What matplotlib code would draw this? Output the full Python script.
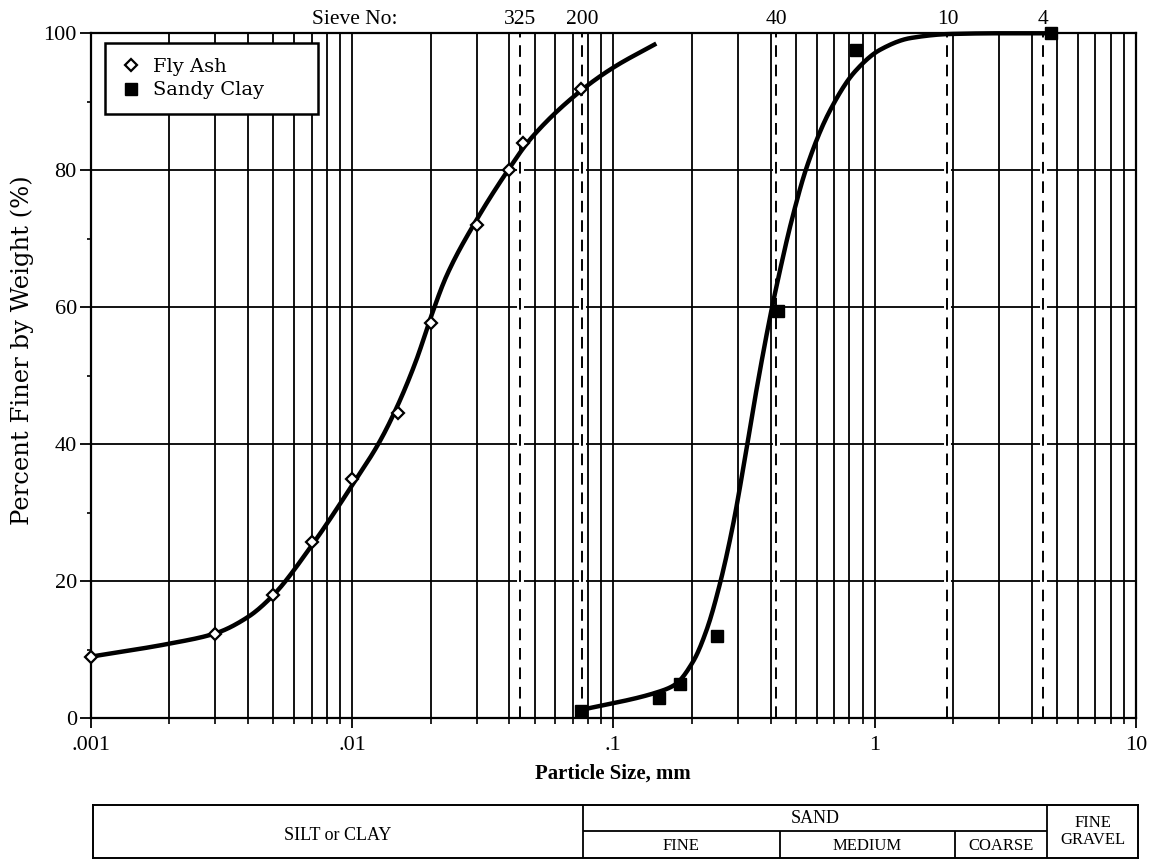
import numpy as np
import matplotlib
matplotlib.use("Agg")
import matplotlib.pyplot as plt
from matplotlib.ticker import LogLocator, NullFormatter, FixedLocator

# ---------------- data ----------------
fly_ash_x = [0.001, 0.003, 0.005, 0.007, 0.01, 0.015, 0.02, 0.03, 0.04, 0.045, 0.075]
fly_ash_y = [9.0, 12.3, 18.0, 25.8, 35.0, 44.5, 57.7, 72.0, 80.0, 84.0, 91.8]

sandy_clay_x = [0.075, 0.15, 0.18, 0.25, 0.425, 0.85, 4.75]
sandy_clay_y = [1.0, 3.0, 5.0, 12.0, 59.4, 97.6, 100.0]

# hand-drawn fit curves
fly_ash_curve_x = [0.001, 0.002, 0.003, 0.004, 0.005, 0.007, 0.01, 0.0128, 0.015,
                   0.0177, 0.02, 0.023, 0.03, 0.04, 0.048, 0.075, 0.1, 0.146]
fly_ash_curve_y = [9.0, 10.9, 12.4, 14.8, 18.0, 25.2, 34.0, 40.5, 45.8,
                   52.5, 58.5, 64.6, 72.8, 80.3, 84.5, 91.6, 95.0, 98.5]

sandy_clay_curve_x = [0.075, 0.15, 0.172, 0.202, 0.2275, 0.256, 0.288, 0.319, 0.354,
                      0.398, 0.428, 0.48, 0.55, 0.67, 0.84, 1.05, 1.37, 1.95, 3.0, 4.75]
sandy_clay_curve_y = [1.2, 3.9, 4.9, 8.3, 12.9, 19.7, 28.5, 38.0, 48.2,
                      58.6, 64.3, 72.5, 80.5, 88.5, 94.4, 97.6, 99.3, 99.9, 100.0, 100.0]

series_labels = ["Fly Ash", "Sandy Clay"]

sieve_labels = ["325", "200", "40", "10", "4"]
sieve_sizes = [0.044, 0.0757, 0.42, 1.9, 4.4]

x_tick_values = [0.001, 0.01, 0.1, 1, 10]
x_tick_labels = [".001", ".01", ".1", "1", "10"]
y_tick_values = [0, 20, 40, 60, 80, 100]
y_minor_values = [10, 30, 50, 70, 90]

table_bounds = [0.001, 0.075, 0.425, 2.0, 4.5, 10.0]
table_lower_labels = ["SILT or CLAY", "FINE", "MEDIUM", "COARSE", "FINE\nGRAVEL"]


def pchip(x, y, xn):
    x = np.asarray(x, float); y = np.asarray(y, float); xn = np.asarray(xn, float)
    h = np.diff(x); d = np.diff(y) / h
    n = len(x); m = np.zeros(n)
    for k in range(1, n - 1):
        if d[k - 1] * d[k] > 0:
            w1 = 2 * h[k] + h[k - 1]; w2 = h[k] + 2 * h[k - 1]
            m[k] = (w1 + w2) / (w1 / d[k - 1] + w2 / d[k])
    m[0] = d[0]; m[-1] = d[-1]
    idx = np.clip(np.searchsorted(x, xn) - 1, 0, n - 2)
    t = (xn - x[idx]) / h[idx]
    h00 = 2 * t**3 - 3 * t**2 + 1; h10 = t**3 - 2 * t**2 + t
    h01 = -2 * t**3 + 3 * t**2; h11 = t**3 - t**2
    return h00 * y[idx] + h10 * h[idx] * m[idx] + h01 * y[idx + 1] + h11 * h[idx] * m[idx + 1]


def smooth(cx, cy):
    lx = np.log10(cx)
    fine = np.linspace(lx[0], lx[-1], 500)
    return 10 ** fine, pchip(lx, cy, fine)


SERIF = "DejaVu Serif"
TIMES = "Liberation Serif"

fig = plt.figure(figsize=(11.59, 8.67), dpi=100)
ax = fig.add_axes([0.0783, 0.1715, 0.9018, 0.7901])
ax.set_xscale("log")
ax.set_xlim(0.001, 10)
ax.set_ylim(0, 100)

ax.xaxis.set_major_locator(FixedLocator(x_tick_values))
ax.set_xticklabels(x_tick_labels)
ax.xaxis.set_minor_locator(LogLocator(base=10, subs=np.arange(2, 10), numticks=100))
ax.xaxis.set_minor_formatter(NullFormatter())
ax.set_yticks(y_tick_values)
ax.set_yticks(y_minor_values, minor=True)

ax.grid(which="both", axis="x", color="black", lw=1.3, zorder=1)
ax.grid(which="major", axis="y", color="black", lw=1.3, zorder=1)
ax.set_axisbelow(True)

for sp in ax.spines.values():
    sp.set_linewidth(1.6)
    sp.set_color("black")

ax.tick_params(axis="x", which="major", direction="out", length=7, width=1.3, pad=6)
ax.tick_params(axis="x", which="minor", direction="out", length=4, width=1.2)
ax.tick_params(axis="y", which="major", direction="out", length=8, width=1.3, pad=2)
ax.tick_params(axis="y", which="minor", direction="out", length=3, width=1.2)
for lab in ax.get_xticklabels() + ax.get_yticklabels():
    lab.set_fontfamily(TIMES)
    lab.set_fontsize(16)

# sieve dashed lines and labels
for s, lab in zip(sieve_sizes, sieve_labels):
    ax.axvline(s, color="white", lw=5, zorder=1.5)
    ax.axvline(s, color="black", lw=1.4, ls=(0, (6, 4)), zorder=1.6)
    ax.text(s, 1.006, lab, transform=ax.get_xaxis_transform(), ha="center", va="bottom",
            fontfamily=TIMES, fontsize=15.5)
ax.text(0.2528, 1.006, "Sieve No:", transform=ax.transAxes, ha="center", va="bottom",
        fontfamily=TIMES, fontsize=15.5)

# curves
fx, fy = smooth(fly_ash_curve_x, fly_ash_curve_y)
ax.plot(fx, fy, color="black", lw=3.2, zorder=3, clip_on=False, solid_capstyle="butt")
sx, sy = smooth(sandy_clay_curve_x, sandy_clay_curve_y)
ax.plot(sx, sy, color="black", lw=3.2, zorder=3, clip_on=False, solid_capstyle="butt")

# markers
h1, = ax.plot(fly_ash_x, fly_ash_y, ls="none", marker="D", ms=6.5, mfc="white",
              mec="black", mew=1.6, zorder=4, clip_on=False, label=series_labels[0])
h2, = ax.plot(sandy_clay_x, sandy_clay_y, ls="none", marker="s", ms=9, mfc="black",
              mec="black", zorder=4, clip_on=False, label=series_labels[1])

leg = ax.legend(handles=[h1, h2], loc="upper left",
                bbox_to_anchor=(0.0137, 0.872, 0.2038, 0.1139), mode="expand",
                prop={"family": SERIF, "size": 14}, frameon=True, fancybox=False,
                framealpha=1, edgecolor="black", borderpad=0.75, labelspacing=0.3,
                handletextpad=0.5, handlelength=1.2, borderaxespad=0)
leg.get_frame().set_linewidth(1.8)
leg.set_zorder(10)

ax.set_xlabel("Particle Size, mm", fontfamily=TIMES, fontweight="bold", fontsize=15, labelpad=6)
fig.text(22 / 1159, 1 - 350 / 867, "Percent Finer by Weight (%)", rotation=90,
         ha="center", va="center", fontfamily=SERIF, fontsize=17.5)

# classification table
tax = fig.add_axes([0.0802, 0.0104, 0.9017, 0.0611])
tax.set_xscale("log")
tax.set_xlim(table_bounds[0], table_bounds[-1])
tax.set_ylim(0, 2)
tax.xaxis.set_major_locator(FixedLocator([]))
tax.xaxis.set_minor_locator(FixedLocator([]))
tax.set_yticks([])
for sp in tax.spines.values():
    sp.set_linewidth(1.4)
tax.vlines([table_bounds[1], table_bounds[4]], 0, 2, color="black", lw=1.3)
tax.vlines([table_bounds[2], table_bounds[3]], 0, 1, color="black", lw=1.3)
tax.hlines(1, table_bounds[1], table_bounds[4], color="black", lw=1.3)

centers = [np.sqrt(a * b) for a, b in zip(table_bounds[:-1], table_bounds[1:])]
tax.text(centers[0], 0.85, table_lower_labels[0], ha="center", va="center",
         fontfamily=TIMES, fontsize=13)
for c, lab in zip(centers[1:4], table_lower_labels[1:4]):
    tax.text(c, 0.45, lab, ha="center", va="center", fontfamily=TIMES, fontsize=12)
tax.text(centers[4], 1.0, table_lower_labels[4], ha="center", va="center",
         fontfamily=TIMES, fontsize=12, linespacing=1.1)
tax.text(np.sqrt(table_bounds[1] * table_bounds[4]), 1.5, "SAND", ha="center", va="center",
         fontfamily=TIMES, fontsize=13)

fig.savefig("out.png", dpi=100)
